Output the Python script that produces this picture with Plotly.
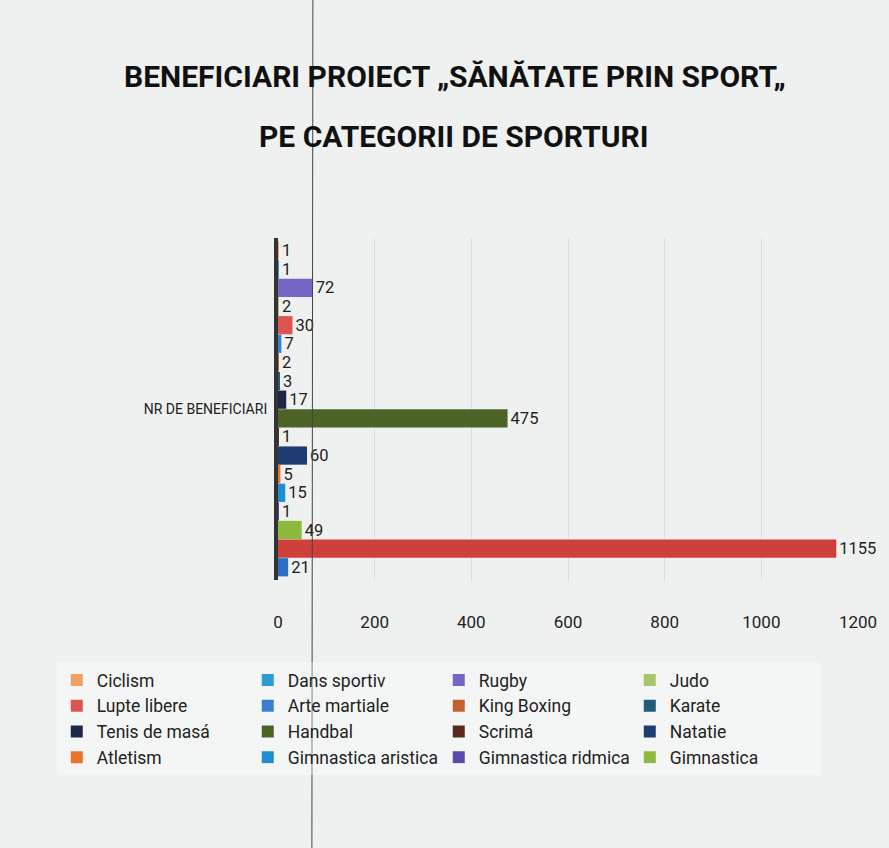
import plotly.graph_objects as go

category = ["NR DE BENEFICIARI"]
sports = ["Ciclism", "Dans sportiv", "Rugby", "Judo",
          "Lupte libere", "Arte martiale", "King Boxing", "Karate",
          "Tenis de masá", "Handbal", "Scrimá", "Natatie",
          "Atletism", "Gimnastica aristica", "Gimnastica ridmica", "Gimnastica",
          "(nedenumit 1)", "(nedenumit 2)"]
values = [1, 1, 72, 2, 30, 7, 2, 3, 17, 475, 1, 60, 5, 15, 1, 49, 1155, 21]
in_legend = [True] * 16 + [False, False]
colors = ["#F0A060", "#2F9AD6", "#7566C6", "#A6C46A",
          "#DC5550", "#3A7ED2", "#C4622E", "#1F5E78",
          "#1E2846", "#4E6426", "#5A2A1E", "#1F3C72",
          "#E8742C", "#1E8ED2", "#5A4AA8", "#8DBA3C",
          "#D0403A", "#2F6EC6"]
x_ticks = [0, 200, 400, 600, 800, 1000, 1200]

FONT = "Roboto, Liberation Sans Narrow, sans-serif"

fig = go.Figure()
for name, v, c, sl in zip(sports, values, colors, in_legend):
    fig.add_trace(go.Bar(
        y=category, x=[v], name=name, orientation="h",
        marker=dict(color=c, line=dict(width=0)),
        text=[str(v)], textposition="outside", cliponaxis=False,
        constraintext="none",
        textfont=dict(family=FONT, size=16.5, color="#222"),
        showlegend=sl,
    ))

L, R, T, B = 278, 29, 238, 268
W, H = 889, 848
ph = H - T - B
pw = W - L - R

fig.update_layout(
    width=W, height=H,
    margin=dict(l=L, r=R, t=T, b=B, pad=0),
    paper_bgcolor="#eff1f1", plot_bgcolor="#eff1f1",
    barmode="group", bargap=0.02, bargroupgap=0.02,
    font=dict(family=FONT, color="#222"),
    xaxis=dict(range=[0, 1200], tickvals=x_ticks, showgrid=True,
               gridcolor="#d9dddd", gridwidth=1, zeroline=False,
               showline=False, ticklabelstandoff=30,
               tickfont=dict(family=FONT, size=17, color="#222")),
    yaxis=dict(autorange="reversed", showline=True, linecolor="#333", linewidth=4,
               ticks="", ticklabelstandoff=4,
               tickfont=dict(family=FONT, size=14, color="#222")),
    legend=dict(orientation="h", x=(56 - L) / pw, xanchor="left",
                y=(580 - 662) / ph, yanchor="top",
                entrywidth=146, entrywidthmode="pixels",
                itemwidth=30, tracegroupgap=0,
                bgcolor="rgba(255,255,255,0.35)",
                font=dict(family=FONT, size=17.5, color="#222")),
    showlegend=True,
)

fig.add_annotation(text="<b>BENEFICIARI PROIECT „SĂNĂTATE PRIN SPORT„</b>",
                   xref="paper", yref="paper", x=(455 - L) / pw, y=(580 - 76) / ph,
                   xanchor="center", yanchor="middle", showarrow=False,
                   font=dict(family=FONT, size=30, color="#111"))
fig.add_annotation(text="<b>PE CATEGORII DE SPORTURI</b>",
                   xref="paper", yref="paper", x=(455 - L) / pw, y=(580 - 136) / ph,
                   xanchor="center", yanchor="middle", showarrow=False,
                   font=dict(family=FONT, size=30, color="#111"))

# thin vertical scan line visible across the page
fig.add_shape(type="line", xref="paper", yref="paper",
              x0=(312 - L) / pw, x1=(313 - L) / pw,
              y0=(580 - H) / ph, y1=580 / ph,
              line=dict(color="#444", width=1), layer="above")

fig.write_html("out.html", config={"displayModeBar": False},
               post_script="document.body.style.margin='0';document.body.style.overflow='hidden';")
